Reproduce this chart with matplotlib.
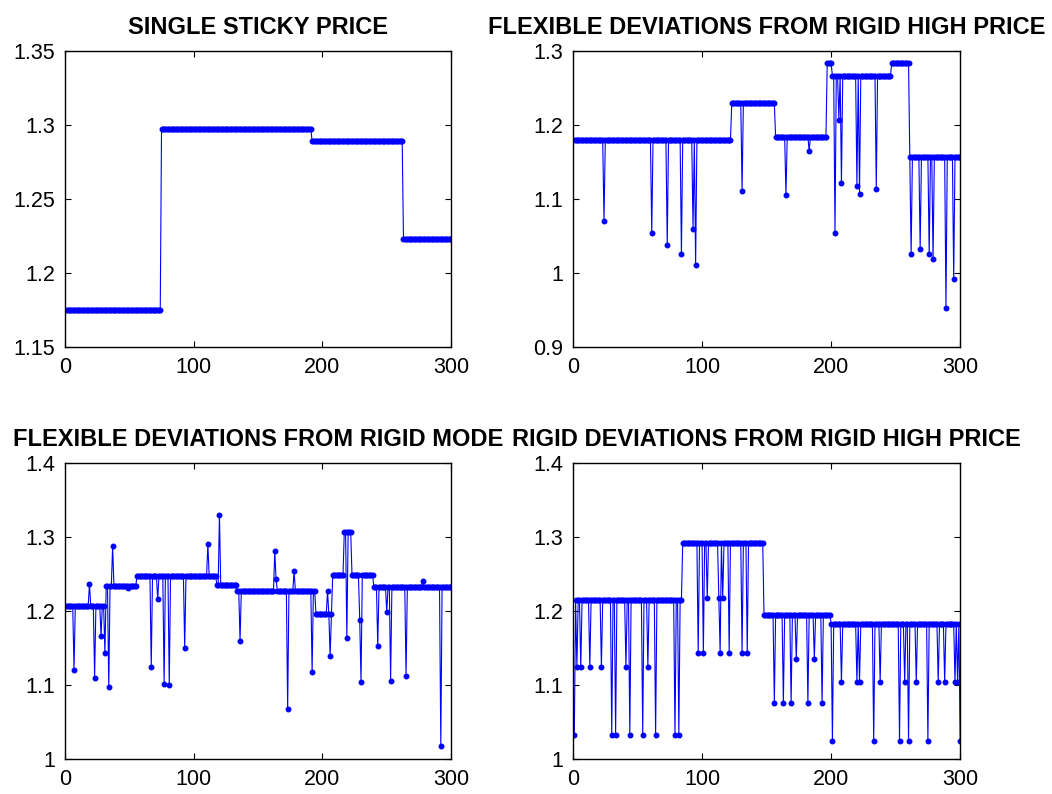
import numpy as np
import matplotlib
matplotlib.use("Agg")
import matplotlib.pyplot as plt
from matplotlib.ticker import FuncFormatter

plt.rcParams['font.family'] = ['Liberation Sans', 'DejaVu Sans']

x = np.arange(1, 301)

# panel 1 : single sticky price (flat levels)
p1_start = [1, 75, 192, 263]
p1_end = [74, 191, 262, 300]
p1_level = [1.175, 1.2975, 1.289, 1.223]
p1_ev_x = []
p1_ev_y = []

# panel 2 : flexible deviations from rigid high price
p2_start = [1, 123, 157, 197, 201, 247, 261]
p2_end = [122, 156, 196, 200, 246, 260, 300]
p2_level = [1.179, 1.229, 1.1835, 1.284, 1.266, 1.284, 1.1565]
p2_ev_x = [24, 61, 73, 84, 93, 95, 131, 165, 183, 203, 206, 208, 220, 222, 235,
           262, 269, 276, 279, 289, 295]
p2_ev_y = [1.070, 1.054, 1.038, 1.026, 1.060, 1.011, 1.111, 1.105, 1.165, 1.054,
           1.207, 1.122, 1.118, 1.107, 1.114, 1.025, 1.032, 1.025, 1.019, 0.953, 0.992]

# panel 3 : flexible deviations from rigid mode
p3_start = [1, 32, 56, 118, 134, 195, 208, 217, 223, 240]
p3_end = [31, 55, 117, 133, 194, 207, 216, 222, 239, 300]
p3_level = [1.207, 1.2347, 1.2477, 1.236, 1.2275, 1.196, 1.2486, 1.307, 1.2486, 1.2329]
p3_ev_x = [7, 19, 23, 28, 31, 34, 37, 49, 67, 72, 77, 81, 93, 111, 120, 136,
           163, 164, 173, 178, 192, 204, 206, 219, 229, 230, 243, 250, 253, 265, 278, 292]
p3_ev_y = [1.121, 1.237, 1.110, 1.166, 1.143, 1.097, 1.288, 1.232, 1.124, 1.216,
           1.102, 1.100, 1.150, 1.291, 1.330, 1.160, 1.281, 1.243, 1.068, 1.254,
           1.118, 1.227, 1.140, 1.1635, 1.188, 1.105, 1.153, 1.199, 1.106, 1.112,
           1.241, 1.018]

# panel 4 : rigid deviations from rigid high price
p4_start = [1, 85, 148, 200]
p4_end = [84, 147, 199, 300]
p4_level = [1.2149, 1.2919, 1.1955, 1.1833]
p4_ev_x = [1, 3, 6, 13, 22, 30, 33, 41, 44, 54, 58, 64, 79, 82,
           97, 101, 104, 113, 114, 116, 121, 131, 135,
           156, 163, 169, 173, 182, 187, 193,
           201, 208, 220, 222, 233, 238, 253, 257, 260, 266, 275, 283, 288, 296, 298, 300]
p4_ev_y = [1.033, 1.124, 1.124, 1.124, 1.124, 1.033, 1.033, 1.124, 1.033, 1.033, 1.124, 1.033, 1.033, 1.033,
           1.144, 1.144, 1.2176, 1.2176, 1.144, 1.2176, 1.144, 1.144, 1.144,
           1.0757, 1.0757, 1.0757, 1.135, 1.0757, 1.135, 1.0757,
           1.025, 1.104, 1.104, 1.104, 1.025, 1.104, 1.025, 1.104, 1.025, 1.104, 1.025, 1.104, 1.104, 1.104, 1.104, 1.025]

titles = ["SINGLE STICKY PRICE",
          "FLEXIBLE DEVIATIONS FROM RIGID HIGH PRICE",
          "FLEXIBLE DEVIATIONS FROM RIGID MODE",
          "RIGID DEVIATIONS FROM RIGID HIGH PRICE"]
ylims = [(1.15, 1.35), (0.9, 1.3), (1.0, 1.4), (1.0, 1.4)]
yticks = [[1.15, 1.2, 1.25, 1.3, 1.35], [0.9, 1.0, 1.1, 1.2, 1.3],
          [1.0, 1.1, 1.2, 1.3, 1.4], [1.0, 1.1, 1.2, 1.3, 1.4]]


def build(starts, ends, levels, ev_x, ev_y):
    y = np.zeros(len(x))
    for s, e, l in zip(starts, ends, levels):
        y[s - 1:e] = l
    for ex, ey in zip(ev_x, ev_y):
        y[ex - 1] = ey
    return y


series = [build(p1_start, p1_end, p1_level, p1_ev_x, p1_ev_y),
          build(p2_start, p2_end, p2_level, p2_ev_x, p2_ev_y),
          build(p3_start, p3_end, p3_level, p3_ev_x, p3_ev_y),
          build(p4_start, p4_end, p4_level, p4_ev_x, p4_ev_y)]

fig = plt.figure(figsize=(10.52, 7.94), dpi=100)
# axes boxes [left, bottom, width, height] in figure fraction
boxes = [[0.0618, 0.563, 0.367, 0.373],
         [0.5447, 0.563, 0.368, 0.373],
         [0.0618, 0.0437, 0.367, 0.373],
         [0.5447, 0.0437, 0.368, 0.373]]

for i in range(4):
    ax = fig.add_axes(boxes[i])
    ax.plot(x, series[i], '.-', color='blue', linewidth=0.8, markersize=6.5)
    ax.set_xlim(0, 300)
    ax.set_ylim(ylims[i])
    ax.set_xticks([0, 100, 200, 300])
    ax.set_yticks(yticks[i])
    ax.yaxis.set_major_formatter(FuncFormatter(lambda v, p: f"{v:g}"))
    ax.tick_params(direction='in', top=True, right=True, length=4, width=0.8,
                   labelsize=15.5, pad=7)
    for sp in ax.spines.values():
        sp.set_linewidth(1.0)
    ax.set_title(titles[i], fontsize=17, fontweight='bold', pad=12)

fig.savefig("out.png", dpi=100)
